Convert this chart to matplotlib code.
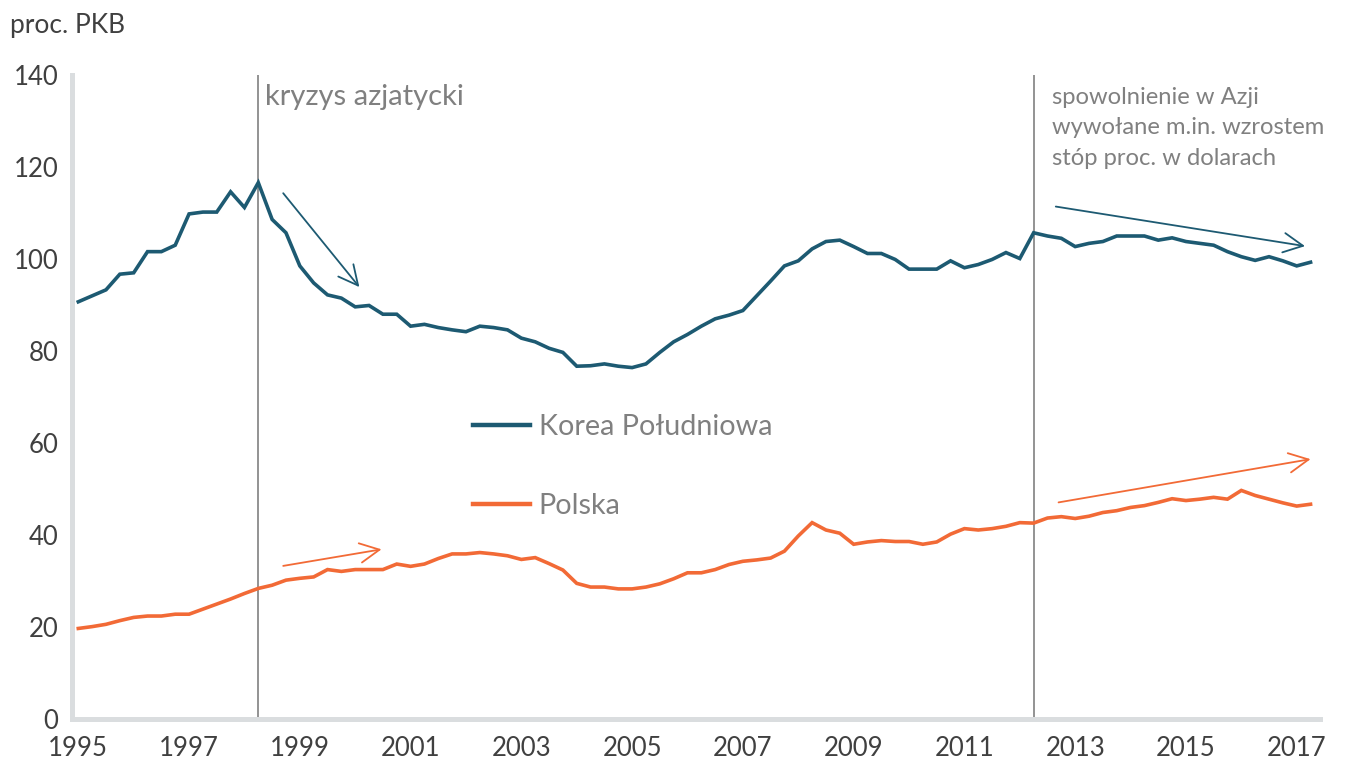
import numpy as np
import matplotlib
matplotlib.use('Agg')
import matplotlib.pyplot as plt

plt.rcParams['font.family'] = ['Lato', 'DejaVu Sans']

# dane kwartalne 1995Q1 - 2017Q2, proc. PKB
years = list(range(1995, 2018, 2))
korea = [90.7, 92.0, 93.3, 96.7, 97.0, 101.6, 101.6, 103.0, 109.8, 110.2,
         110.2, 114.6, 111.2, 116.6, 108.6, 105.7, 98.5, 94.8, 92.2, 91.5,
         89.6, 89.9, 88.0, 88.0, 85.4, 85.8, 85.1, 84.6, 84.2, 85.4,
         85.1, 84.6, 82.8, 82.0, 80.6, 79.7, 76.7, 76.8, 77.2, 76.7,
         76.4, 77.2, 79.7, 82.0, 83.6, 85.4, 87.0, 87.8, 88.8, 92.0,
         95.2, 98.5, 99.6, 102.2, 103.8, 104.1, 102.7, 101.2, 101.2, 99.9,
         97.8, 97.8, 97.8, 99.6, 98.1, 98.8, 99.9, 101.4, 100.1, 105.7,
         105.0, 104.5, 102.7, 103.4, 103.8, 105.0, 105.0, 105.0, 104.1, 104.6,
         103.8, 103.4, 103.0, 101.6, 100.5, 99.7, 100.5, 99.6, 98.5, 99.3]
polska = [19.7, 20.1, 20.6, 21.4, 22.1, 22.4, 22.4, 22.8, 22.8, 23.9,
          25.0, 26.1, 27.3, 28.4, 29.1, 30.2, 30.6, 30.9, 32.5, 32.1,
          32.5, 32.5, 32.5, 33.7, 33.2, 33.7, 34.9, 35.9, 35.9, 36.2,
          35.9, 35.5, 34.7, 35.1, 33.8, 32.4, 29.5, 28.7, 28.7, 28.3,
          28.3, 28.7, 29.4, 30.5, 31.8, 31.8, 32.5, 33.6, 34.3, 34.6,
          35.0, 36.5, 39.8, 42.7, 41.1, 40.4, 38.0, 38.5, 38.8, 38.6,
          38.6, 38.0, 38.5, 40.2, 41.4, 41.1, 41.4, 41.9, 42.7, 42.6,
          43.7, 44.0, 43.6, 44.1, 44.9, 45.3, 46.0, 46.4, 47.1, 47.9,
          47.5, 47.8, 48.2, 47.8, 49.7, 48.6, 47.8, 47.0, 46.3, 46.7]

events = [13, 69]  # 1998Q2, 2012Q2

c_korea = '#1d5a72'
c_pl = '#f26a36'
c_txt = '#808080'

x = np.arange(len(korea))

fig = plt.figure(figsize=(13.52, 7.65), dpi=100)
ax = fig.add_axes([0.0533, 0.060, 0.9227, 0.842])

ax.plot(x, korea, color=c_korea, lw=2.6, label='Korea Południowa', solid_joinstyle='miter')
ax.plot(x, polska, color=c_pl, lw=2.6, label='Polska', solid_joinstyle='miter')

for e in events:
    ax.axvline(e, color='#8a8a8a', lw=1.3, zorder=1)

ax.text(13.45, 135.2, 'kryzys azjatycki', color=c_txt, fontsize=21, va='center', ha='left')
ax.text(70.3, 137.4, 'spowolnienie w Azji\nwywołane m.in. wzrostem\nstóp proc. w dolarach',
        color=c_txt, fontsize=17.1, va='top', ha='left', linespacing=1.55)

# strzalki trendu
arrows = [((14.8, 114.3), (20.3, 93.9), c_korea),
          ((70.6, 111.4), (88.6, 102.8), c_korea),
          ((14.8, 33.3), (21.9, 36.9), c_pl),
          ((70.8, 47.1), (89.0, 56.5), c_pl)]
for start, end, col in arrows:
    ax.annotate('', xy=end, xytext=start,
                arrowprops=dict(arrowstyle='->,head_length=0.7,head_width=0.35',
                                color=col, lw=1.3, shrinkA=0, shrinkB=0,
                                mutation_scale=20))

ax.set_xlim(-0.45, 89.65)
ax.set_ylim(0, 140)
ax.set_yticks(range(0, 141, 20))
ax.set_xticks(x[::8])
ax.set_xticklabels([str(y) for y in years])
ax.tick_params(axis='both', length=0, labelsize=18.5, labelcolor='#404040')
ax.tick_params(axis='x', pad=12)
ax.tick_params(axis='y', pad=10)

for s in ['top', 'right']:
    ax.spines[s].set_visible(False)
for s in ['left', 'bottom']:
    ax.spines[s].set_color('#dadddf')
    ax.spines[s].set_linewidth(3.6)

leg = ax.legend(loc='upper left', bbox_to_anchor=(0.321, 0.474), frameon=False,
                fontsize=20.7, labelcolor=c_txt, handlelength=2.0, handletextpad=0.3,
                labelspacing=1.85, borderpad=0, borderaxespad=0)
for line in leg.get_lines():
    line.set_linewidth(3.2)

fig.text(10 / 1352, 1 - 25 / 765, 'proc. PKB', fontsize=19, color='#404040', va='center', ha='left')

fig.savefig('out.png', dpi=100)
